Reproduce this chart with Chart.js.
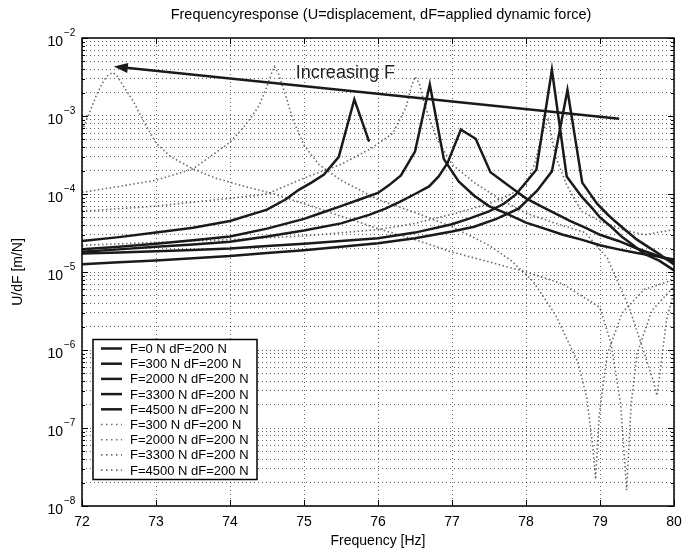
<!DOCTYPE html>
<html>
<head>
<meta charset="utf-8">
<script src="https://cdn.jsdelivr.net/npm/chart.js@4.4.1/dist/chart.umd.min.js"></script>
<style>
  html, body { margin: 0; padding: 0; background: #fff; }
</style>
</head>
<body>
<canvas id="myChart" width="683" height="551"></canvas>
<script>
var titleText = 'Frequencyresponse (U=displacement, dF=applied dynamic force)';
var xLabel = 'Frequency [Hz]';
var yLabel = 'U/dF [m/N]';
var xTicks = [72, 73, 74, 75, 76, 77, 78, 79, 80];
var yDecades = [-8, -7, -6, -5, -4, -3, -2];

var seriesLabels = ['F=0 N dF=200 N', 'F=300 N dF=200 N', 'F=2000 N dF=200 N',
  'F=3300 N dF=200 N', 'F=4500 N dF=200 N', 'F=300 N dF=200 N',
  'F=2000 N dF=200 N', 'F=3300 N dF=200 N', 'F=4500 N dF=200 N'];

// solid curves
var s0x = [72, 72.5, 73, 73.5, 74, 74.5, 75, 75.5, 76, 76.5, 77, 77.3, 77.6, 77.9, 78.15, 78.35, 78.56, 78.76, 78.96, 79.1, 79.2, 79.35, 79.5, 79.65, 79.8, 80];
var s0y = [1.26e-5, 1.33e-5, 1.4e-5, 1.5e-5, 1.6e-5, 1.75e-5, 1.9e-5, 2.1e-5, 2.33e-5, 2.7e-5, 3.3e-5, 3.8e-5, 4.8e-5, 6.5e-5, 1.1e-4, 1.95e-4, 2.15e-3, 1.4e-4, 7.5e-5, 5.5e-5, 4.5e-5, 3.4e-5, 2.6e-5, 2.1e-5, 1.7e-5, 1.25e-5];
var s300x = [72, 72.5, 73, 73.5, 74, 74.5, 75, 75.5, 76, 76.5, 77, 77.25, 77.5, 77.7, 77.86, 78.14, 78.35, 78.55, 78.75, 78.9, 79.0, 79.15, 79.3, 79.45, 79.6, 79.8, 80];
var s300y = [1.73e-5, 1.78e-5, 1.85e-5, 1.92e-5, 2.0e-5, 2.15e-5, 2.3e-5, 2.5e-5, 2.7e-5, 3.2e-5, 4.1e-5, 4.9e-5, 6e-5, 7.5e-5, 9.8e-5, 2.05e-4, 3.9e-3, 1.68e-4, 9.3e-5, 6.5e-5, 5e-5, 3.8e-5, 2.8e-5, 2.2e-5, 1.7e-5, 1.4e-5, 1.05e-5];
var s2000x = [72, 72.5, 73, 73.5, 74, 74.5, 75, 75.5, 75.88, 76.1, 76.3, 76.5, 76.69, 76.82, 76.94, 77.12, 77.32, 77.52, 77.84, 78.0, 78.2, 78.4, 78.6, 78.8, 79.0, 79.25, 79.5, 79.75, 80];
var s2000y = [1.82e-5, 1.95e-5, 2.1e-5, 2.25e-5, 2.45e-5, 2.85e-5, 3.4e-5, 4.2e-5, 5.4e-5, 6.5e-5, 8e-5, 1.0e-4, 1.25e-4, 1.68e-4, 2.5e-4, 6.7e-4, 5.1e-4, 1.9e-4, 1.13e-4, 8.8e-5, 7e-5, 5.6e-5, 4.5e-5, 3.7e-5, 3e-5, 2.5e-5, 2e-5, 1.65e-5, 1.35e-5];
var s3300x = [72, 72.5, 73, 73.5, 74, 74.5, 75, 75.25, 75.5, 75.75, 76, 76.15, 76.31, 76.5, 76.7, 76.89, 77.09, 77.3, 77.5, 77.7, 78.0, 78.25, 78.5, 78.75, 79.0, 79.25, 79.5, 79.75, 80];
var s3300y = [1.95e-5, 2.1e-5, 2.3e-5, 2.55e-5, 2.85e-5, 3.6e-5, 4.8e-5, 5.8e-5, 7e-5, 8.5e-5, 1.03e-4, 1.3e-4, 1.73e-4, 3.5e-4, 2.54e-3, 2.8e-4, 1.45e-4, 9.5e-5, 7e-5, 5.8e-5, 4.3e-5, 3.6e-5, 3e-5, 2.6e-5, 2.2e-5, 1.95e-5, 1.75e-5, 1.6e-5, 1.45e-5];
var s4500x = [72, 72.5, 73, 73.5, 74, 74.5, 74.75, 74.93, 75.1, 75.27, 75.47, 75.68, 75.88];
var s4500y = [2.5e-5, 2.8e-5, 3.2e-5, 3.7e-5, 4.5e-5, 6.3e-5, 8.5e-5, 1.13e-4, 1.4e-4, 1.78e-4, 3.0e-4, 1.63e-3, 4.7e-4];

// dotted curves
var d300x = [72, 73, 74, 75, 76, 76.5, 77, 77.5, 77.8, 78.0, 78.12, 78.22, 78.3, 78.4, 78.55, 78.75, 79.0, 79.3, 79.6, 80.0];
var d300y = [2.2e-5, 2.4e-5, 2.6e-5, 2.9e-5, 3.5e-5, 4.2e-5, 5.5e-5, 7.5e-5, 1e-4, 1.3e-4, 2.5e-4, 6e-4, 9e-4, 3e-4, 1.3e-4, 6e-5, 4.5e-5, 3.5e-5, 3e-5, 3.5e-5];
var d2000x = [72.0, 73.0, 74.0, 74.5, 75.0, 75.5, 75.9, 76.2, 76.38, 76.44, 76.5, 76.56, 76.62, 76.7, 76.8, 77.0, 77.3, 77.7, 78.0, 78.4, 78.8, 79.1, 79.4, 79.6, 79.72, 79.77, 79.82, 79.9, 80.0];
var d2000y = [6e-5, 7e-5, 8.8e-5, 1e-4, 1.6e-4, 2.4e-4, 3.8e-4, 6e-4, 1.3e-3, 2.2e-3, 3.2e-3, 2.6e-3, 1.5e-3, 9e-4, 5e-4, 2.4e-4, 1.4e-4, 8e-5, 5.7e-5, 4.2e-5, 3.2e-5, 1.5e-5, 3.4e-6, 9e-7, 4e-7, 2.6e-7, 6e-7, 2.5e-6, 5.5e-6];
var d3300x = [72.0, 72.5, 73.0, 73.5, 74.0, 74.2, 74.3, 74.4, 74.5, 74.55, 74.6, 74.65, 74.7, 74.78, 74.85, 75.0, 75.2, 75.5, 76.0, 76.5, 77.0, 77.5, 77.8, 78.1, 78.4, 78.7, 78.82, 78.9, 78.94, 78.99, 79.1, 79.3, 79.6, 80.0];
var d3300y = [1.05e-4, 1.25e-4, 1.5e-4, 2.1e-4, 4.6e-4, 7.5e-4, 1.0e-3, 1.4e-3, 2.4e-3, 3.3e-3, 4.3e-3, 3.6e-3, 2.6e-3, 1.5e-3, 9e-4, 4.2e-4, 2.4e-4, 1.5e-4, 8.5e-5, 5.8e-5, 3.8e-5, 2.2e-5, 1.4e-5, 7.5e-6, 2.8e-6, 7e-7, 2.5e-7, 6e-8, 2.2e-8, 1.5e-7, 9e-7, 3e-6, 6e-6, 8e-6];
var d4500x = [72.0, 72.1, 72.2, 72.3, 72.36, 72.42, 72.48, 72.55, 72.7, 72.85, 73.0, 73.2, 73.5, 73.8, 74.2, 74.6, 75.0, 75.5, 76.0, 76.5, 77.0, 77.5, 78.0, 78.5, 79.0, 79.15, 79.28, 79.36, 79.42, 79.5, 79.7, 80.0];
var d4500y = [6.5e-4, 1.1e-3, 1.9e-3, 2.9e-3, 3.4e-3, 3.6e-3, 3.2e-3, 2.5e-3, 1.5e-3, 8e-4, 4.5e-4, 3e-4, 2.1e-4, 1.6e-4, 1.25e-4, 1e-4, 7.5e-5, 5.2e-5, 3.6e-5, 2.6e-5, 1.8e-5, 1.35e-5, 1e-5, 7e-6, 3.5e-6, 1.2e-6, 2e-7, 1.6e-8, 2e-7, 9e-7, 3.2e-6, 6.5e-6];

// "Increasing F" arrow (tail -> head) and its text, in data units
var arrowX = [79.26, 72.43];
var arrowY = [9.2e-4, 4.3e-3];
var noteText = 'Increasing F';
var noteX = 74.89, noteY = 3.6e-3;

function pts(xs, ys) {
  return xs.map(function (x, i) { return { x: x, y: ys[i] }; });
}

var solidStyle = { borderColor: '#1a1a1a', borderWidth: 2.5, borderDash: [] };
var dotStyle = { borderColor: 'rgba(70,70,70,0.8)', borderWidth: 1.6, borderDash: [1.5, 2.5] };

var allX = [s0x, s300x, s2000x, s3300x, s4500x, d300x, d2000x, d3300x, d4500x];
var allY = [s0y, s300y, s2000y, s3300y, s4500y, d300y, d2000y, d3300y, d4500y];

var datasets = allX.map(function (xs, i) {
  var st = i < 5 ? solidStyle : dotStyle;
  return {
    label: seriesLabels[i],
    data: pts(xs, allY[i]),
    borderColor: st.borderColor,
    borderWidth: st.borderWidth,
    borderDash: st.borderDash,
    pointRadius: 0,
    tension: 0,
    fill: false
  };
});

var decor = {
  id: 'decor',
  afterDraw: function (chart) {
    var ctx = chart.ctx, a = chart.chartArea;
    var xs = chart.scales.x, ys = chart.scales.y;
    ctx.save();

    function seg(x1, y1, x2, y2) {
      ctx.beginPath(); ctx.moveTo(x1, y1); ctx.lineTo(x2, y2); ctx.stroke();
    }

    // arrow
    var tx = xs.getPixelForValue(arrowX[0]), ty = ys.getPixelForValue(arrowY[0]);
    var hx = xs.getPixelForValue(arrowX[1]), hy = ys.getPixelForValue(arrowY[1]);
    var ang = Math.atan2(hy - ty, hx - tx);
    ctx.strokeStyle = '#1a1a1a'; ctx.fillStyle = '#1a1a1a'; ctx.lineWidth = 2.5;
    seg(tx, ty, hx - 10 * Math.cos(ang), hy - 10 * Math.sin(ang));
    ctx.beginPath();
    ctx.moveTo(hx, hy);
    ctx.lineTo(hx - 14 * Math.cos(ang) + 5 * Math.sin(ang), hy - 14 * Math.sin(ang) - 5 * Math.cos(ang));
    ctx.lineTo(hx - 14 * Math.cos(ang) - 5 * Math.sin(ang), hy - 14 * Math.sin(ang) + 5 * Math.cos(ang));
    ctx.closePath(); ctx.fill();

    ctx.font = '18px "Liberation Sans", Arial, sans-serif';
    ctx.fillStyle = '#222';
    ctx.textAlign = 'left'; ctx.textBaseline = 'middle';
    ctx.fillText(noteText, xs.getPixelForValue(noteX), ys.getPixelForValue(noteY));

    // frame
    ctx.strokeStyle = '#000'; ctx.lineWidth = 1.5;
    ctx.strokeRect(a.left, a.top, a.right - a.left, a.bottom - a.top);

    // inward ticks
    ctx.lineWidth = 1;
    xTicks.forEach(function (v) {
      var px = Math.round(xs.getPixelForValue(v)) + 0.5;
      seg(px, a.bottom, px, a.bottom - 6);
      seg(px, a.top, px, a.top + 6);
    });
    yDecades.forEach(function (d) {
      for (var m = 1; m <= 9; m++) {
        var v = m * Math.pow(10, d);
        if (v > 0.0100001) break;
        var py = Math.round(ys.getPixelForValue(v)) + 0.5;
        var len = m === 1 ? 6 : 3;
        seg(a.left, py, a.left + len, py);
        seg(a.right, py, a.right - len, py);
      }
    });

    // tick labels
    ctx.fillStyle = '#000';
    ctx.font = '14px "Liberation Sans", Arial, sans-serif';
    ctx.textAlign = 'center'; ctx.textBaseline = 'middle';
    xTicks.forEach(function (v) {
      ctx.fillText(String(v), xs.getPixelForValue(v), a.bottom + 16);
    });
    yDecades.forEach(function (d) {
      var py = ys.getPixelForValue(Math.pow(10, d));
      ctx.font = '14px "Liberation Sans", Arial, sans-serif';
      ctx.textAlign = 'right';
      ctx.fillText('10', a.left - 19, py + 4);
      ctx.font = '10px "Liberation Sans", Arial, sans-serif';
      ctx.textAlign = 'left';
      ctx.fillText('\u2212' + String(-d), a.left - 18, py - 5);
    });

    // title and axis titles
    ctx.font = '14.5px "Liberation Sans", Arial, sans-serif';
    ctx.textAlign = 'center';
    ctx.fillText(titleText, (a.left + a.right) / 2 + 3, 15);
    ctx.font = '14px "Liberation Sans", Arial, sans-serif';
    ctx.fillText(xLabel, (a.left + a.right) / 2, a.bottom + 35);
    ctx.save();
    ctx.translate(18, (a.top + a.bottom) / 2);
    ctx.rotate(-Math.PI / 2);
    ctx.fillText(yLabel, 0, 0);
    ctx.restore();

    // legend
    var lx = a.left + 11, ly = 339.5, lw = 164, lh = 140, row = 15.2;
    ctx.fillStyle = '#fff';
    ctx.fillRect(lx, ly, lw, lh);
    ctx.strokeStyle = '#000'; ctx.lineWidth = 1.5;
    ctx.strokeRect(lx, ly, lw, lh);
    ctx.font = '13px "Liberation Sans", Arial, sans-serif';
    ctx.textAlign = 'left'; ctx.textBaseline = 'middle';
    chart.data.datasets.forEach(function (ds, i) {
      var cy = ly + 9 + i * row;
      ctx.strokeStyle = ds.borderColor;
      ctx.lineWidth = ds.borderWidth;
      ctx.setLineDash(ds.borderDash.length ? [1.5, 3.5] : []);
      seg(lx + 8, cy, lx + 29, cy);
      ctx.setLineDash([]);
      ctx.fillStyle = '#000';
      ctx.fillText(ds.label, lx + 37, cy + 1);
    });

    ctx.restore();
  }
};

var ctx = document.getElementById('myChart').getContext('2d');
var myChart = new Chart(ctx, {
  type: 'line',
  data: { datasets: datasets },
  options: {
    responsive: false,
    animation: false,
    devicePixelRatio: 1,
    layout: { padding: { left: 82, right: 9, top: 38, bottom: 45 } },
    plugins: { legend: { display: false }, tooltip: { enabled: false }, title: { display: false } },
    scales: {
      x: {
        type: 'linear', min: 72, max: 80,
        ticks: { display: false, stepSize: 1 },
        grid: { color: 'rgba(0,0,0,0.6)', lineWidth: 1, drawTicks: false },
        border: { display: false, dash: [1, 3] }
      },
      y: {
        type: 'logarithmic', min: 1e-8, max: 1e-2,
        ticks: { display: false },
        afterBuildTicks: function (scale) {
          var t = [];
          yDecades.forEach(function (d) {
            for (var m = 1; m <= 9; m++) {
              var v = m * Math.pow(10, d);
              if (v <= 0.0100001) t.push({ value: v });
            }
          });
          scale.ticks = t;
        },
        grid: { color: 'rgba(0,0,0,0.6)', lineWidth: 1, drawTicks: false },
        border: { display: false, dash: [1, 3] }
      }
    }
  },
  plugins: [decor]
});
</script>
</body>
</html>
